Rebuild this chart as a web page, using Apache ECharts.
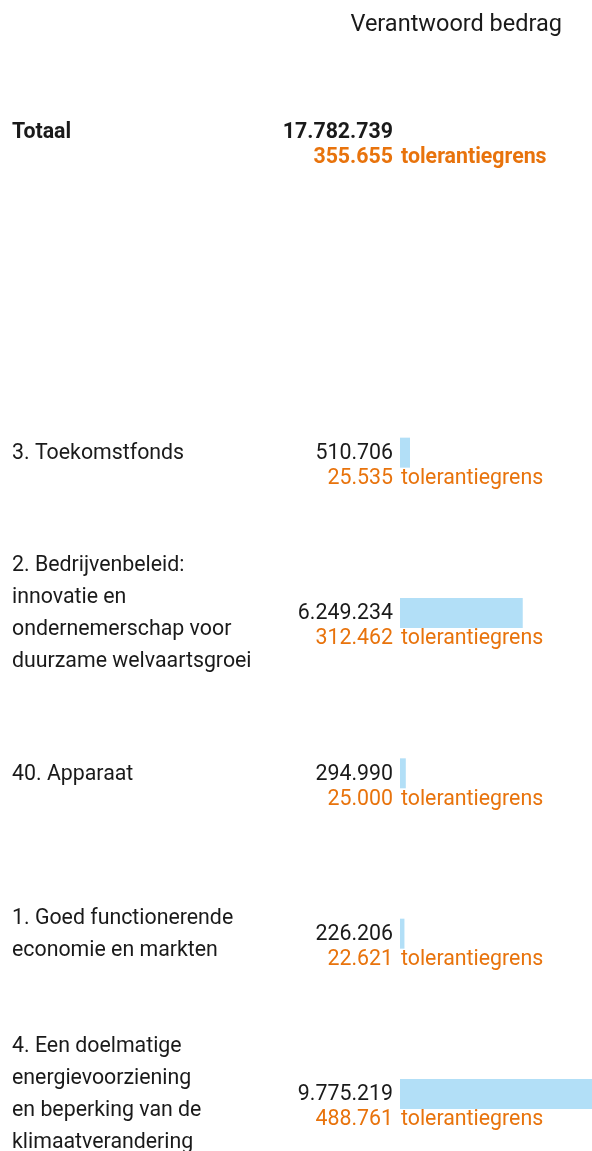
<!DOCTYPE html>
<html>
<head>
<meta charset="utf-8">
<script src="https://cdn.jsdelivr.net/npm/echarts@6/dist/echarts.min.js"></script>
<style>
  html, body { margin: 0; padding: 0; background: #fff; }
  #chart { width: 592px; height: 1151px; }
</style>
</head>
<body>
<div id="chart"></div>
<script>
// rijen van boven naar beneden, de lege rij is een tussenruimte
const categories = [
  'Totaal',
  ' ',
  '3. Toekomstfonds',
  '2. Bedrijvenbeleid:\ninnovatie en\nondernemerschap voor\nduurzame welvaartsgroei',
  '40. Apparaat',
  '1. Goed functionerende\neconomie en markten',
  '4. Een doelmatige\nenergievoorziening\nen beperking van de\nklimaatverandering'
];
// verantwoord bedrag
const amounts = [17782739, null, 510706, 6249234, 294990, 226206, 9775219];
// tolerantiegrens
const tolerances = [355655, null, 25535, 312462, 25000, 22621, 488761];
// balken (Totaal zonder balk)
const barValues = [null, null, 510706, 6249234, 294990, 226206, 9775219];

const FONT = 'Roboto, "Noto Sans", sans-serif';
const FS = 21.33;
const ORANGE = '#e8730c';
const TEXT = '#1a1a1a';

function fmt(n) {
  return String(n).replace(/\B(?=(\d{3})+(?!\d))/g, '.');
}

const chart = echarts.init(document.getElementById('chart'));

const option = {
  backgroundColor: '#fff',
  animation: false,
  title: {
    text: 'Verantwoord bedrag',
    right: 25,
    top: 8,
    textStyle: { fontFamily: FONT, fontSize: 23.5, fontWeight: 'normal', color: TEXT }
  },
  grid: {
    left: 400, right: 0, top: 132, bottom: 57,
    containLabel: false,
    outerBoundsMode: 'none'
  },
  xAxis: {
    type: 'value',
    min: 0,
    max: 9775219,
    show: false
  },
  yAxis: {
    type: 'category',
    inverse: true,
    boundaryGap: false,
    data: categories,
    axisLine: { show: false },
    axisTick: { show: false },
    splitLine: { show: false },
    axisLabel: {
      align: 'left',
      margin: 388,
      fontFamily: FONT,
      fontSize: FS,
      lineHeight: 32,
      padding: [2, 0, 0, 0],
      color: TEXT,
      formatter: function (v) {
        return v === 'Totaal' ? '{b|Totaal}' : v;
      },
      rich: {
        b: { fontFamily: FONT, fontSize: FS, fontWeight: 'bold', color: TEXT }
      }
    }
  },
  series: [
    {
      type: 'bar',
      data: barValues,
      barWidth: 30,
      itemStyle: { color: '#b2dff7' },
      silent: true
    },
    {
      type: 'custom',
      data: categories.map((c, i) => [0, i]),
      renderItem: function (params, api) {
        const i = api.value(1);
        if (amounts[i] == null) return null;
        const p = api.coord([0, i]);
        const bold = i === 0 ? 'bold' : 'normal';
        return {
          type: 'group',
          children: [
            {
              type: 'text',
              style: {
                text: fmt(amounts[i]),
                x: p[0] - 7, y: p[1] + 1,
                align: 'right', verticalAlign: 'middle',
                fontFamily: FONT, fontSize: FS, fontWeight: bold, fill: TEXT
              }
            },
            {
              type: 'text',
              style: {
                text: fmt(tolerances[i]),
                x: p[0] - 7, y: p[1] + 26,
                align: 'right', verticalAlign: 'middle',
                fontFamily: FONT, fontSize: FS, fontWeight: bold, fill: ORANGE
              }
            },
            {
              type: 'text',
              style: {
                text: 'tolerantiegrens',
                x: p[0] + 1, y: p[1] + 26,
                align: 'left', verticalAlign: 'middle',
                fontFamily: FONT, fontSize: FS, fontWeight: bold, fill: ORANGE
              }
            }
          ]
        };
      }
    }
  ]
};

chart.setOption(option);
</script>
</body>
</html>
